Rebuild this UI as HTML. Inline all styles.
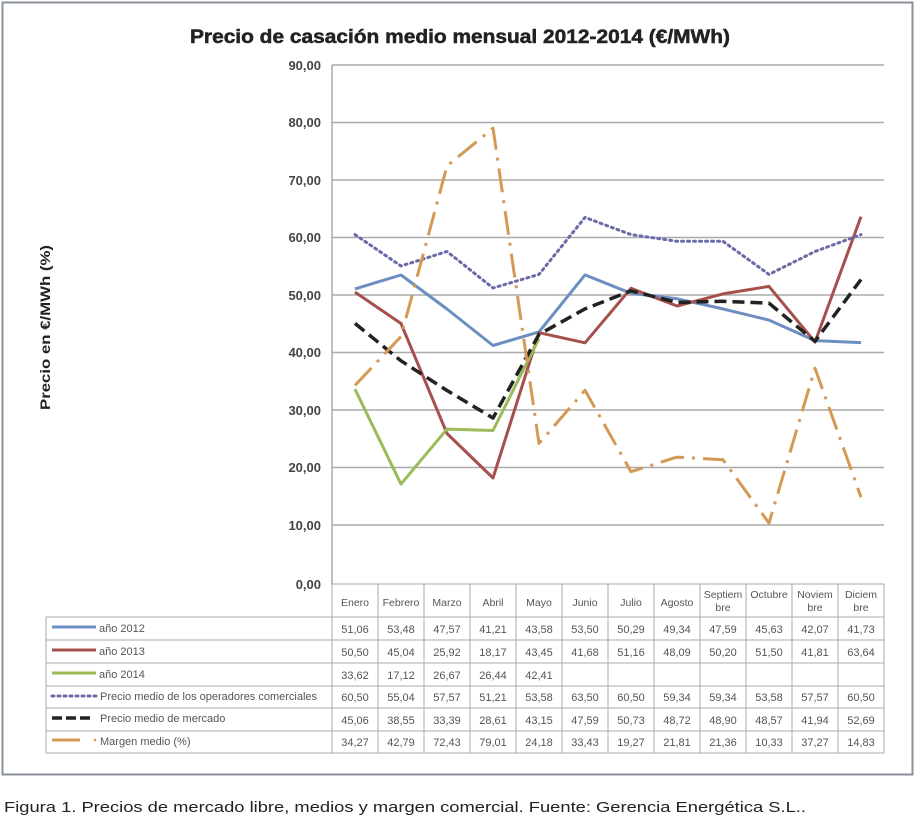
<!DOCTYPE html>
<html><head><meta charset="utf-8"><style>
body{margin:0;background:#fff;}
svg{display:block;font-family:"Liberation Sans",sans-serif;}
</style></head><body>
<svg width="914" height="823" viewBox="0 0 914 823" xmlns="http://www.w3.org/2000/svg">
<rect x="2.5" y="2.5" width="910" height="772" fill="#fff" stroke="#8a9298" stroke-width="2"/>
<text x="190" y="43" textLength="540" lengthAdjust="spacingAndGlyphs" font-size="19" font-weight="bold" fill="#222" stroke="#222" stroke-width="0.5">Precio de casación medio mensual 2012-2014 (€/MWh)</text>
<text transform="translate(50,410) rotate(-90)" textLength="165" lengthAdjust="spacingAndGlyphs" font-size="14" font-weight="bold" fill="#222">Precio en €/MWh (%)</text>
<g stroke="#aaa" stroke-width="1.5">
<line x1="332" y1="65" x2="884" y2="65"/><line x1="332" y1="122.5" x2="884" y2="122.5"/><line x1="332" y1="180" x2="884" y2="180"/><line x1="332" y1="237.5" x2="884" y2="237.5"/><line x1="332" y1="295" x2="884" y2="295"/><line x1="332" y1="352.5" x2="884" y2="352.5"/><line x1="332" y1="410" x2="884" y2="410"/><line x1="332" y1="467.5" x2="884" y2="467.5"/><line x1="332" y1="525" x2="884" y2="525"/>
<line x1="332" y1="65" x2="332" y2="584"/>
</g>
<g font-size="13" font-weight="bold" fill="#444" text-anchor="end">
<text x="321" y="70">90,00</text><text x="321" y="127">80,00</text><text x="321" y="185">70,00</text><text x="321" y="242">60,00</text><text x="321" y="300">50,00</text><text x="321" y="357">40,00</text><text x="321" y="415">30,00</text><text x="321" y="472">20,00</text><text x="321" y="530">10,00</text><text x="321" y="589">0,00</text>
</g>
<g fill="none" stroke-width="3" stroke-linejoin="round">
<polyline stroke="#6b8fc0" points="355,288.9 401,275 447,309 493,345.5 539,331.9 585,274.9 631,293.3 677,298.8 723,308.9 769,320.1 815,340.6 861,342.6"/>
<polyline stroke="#a4504d" points="355,292.1 401,323.5 447,433.5 493,478 539,332.7 585,342.8 631,288.3 677,306 723,293.9 769,286.4 815,342.1 861,216.6"/>
<polyline stroke="#9bbb59" points="355,389.2 401,484.1 447,429.1 493,430.5 539,338.6"/>
<polyline stroke="#6a6aa8" stroke-dasharray="2,4" stroke-linecap="round" points="355,234.6 401,266 447,251.5 493,288 539,274.4 585,217.4 631,234.6 677,241.3 723,241.3 769,274.4 815,251.5 861,234.6"/>
<polyline stroke="#222" stroke-width="3.5" stroke-dasharray="12,6" points="355,323.4 401,360.8 447,390.5 493,418 539,334.4 585,308.9 631,290.8 677,302.4 723,301.3 769,303.2 815,341.3 861,279.5"/>
<polyline stroke="#d49a55" stroke-dasharray="24,8,3,8" points="355,385.4 401,336.5 447,166 493,128.2 539,443.5 585,390.3 631,471.7 677,457.1 723,459.7 769,523.1 815,368.2 861,497.2"/>
</g>
<g stroke="#aaa" stroke-width="1" fill="none">
<rect x="46" y="617" width="838" height="136"/>
<line x1="332" y1="584" x2="884" y2="584"/>
<line x1="884" y1="584" x2="884" y2="617"/>
<line x1="46" y1="640" x2="884" y2="640"/><line x1="46" y1="663" x2="884" y2="663"/><line x1="46" y1="686" x2="884" y2="686"/><line x1="46" y1="708" x2="884" y2="708"/><line x1="46" y1="731" x2="884" y2="731"/>
<line x1="332" y1="584" x2="332" y2="753"/><line x1="378" y1="584" x2="378" y2="753"/><line x1="424" y1="584" x2="424" y2="753"/><line x1="470" y1="584" x2="470" y2="753"/><line x1="516" y1="584" x2="516" y2="753"/><line x1="562" y1="584" x2="562" y2="753"/><line x1="608" y1="584" x2="608" y2="753"/><line x1="654" y1="584" x2="654" y2="753"/><line x1="700" y1="584" x2="700" y2="753"/><line x1="746" y1="584" x2="746" y2="753"/><line x1="792" y1="584" x2="792" y2="753"/><line x1="838" y1="584" x2="838" y2="753"/>
</g>
<g font-size="10.5" fill="#555" text-anchor="middle">
<text x="355" y="606">Enero</text><text x="401" y="606">Febrero</text><text x="447" y="606">Marzo</text><text x="493" y="606">Abril</text><text x="539" y="606">Mayo</text><text x="585" y="606">Junio</text><text x="631" y="606">Julio</text><text x="677" y="606">Agosto</text>
<text x="723" y="598">Septiem</text><text x="723" y="611">bre</text><text x="769" y="598">Octubre</text><text x="815" y="598">Noviem</text><text x="815" y="611">bre</text><text x="861" y="598">Diciem</text><text x="861" y="611">bre</text>
<g font-size="11">
<text x="355" y="633">51,06</text><text x="401" y="633">53,48</text><text x="447" y="633">47,57</text><text x="493" y="633">41,21</text><text x="539" y="633">43,58</text><text x="585" y="633">53,50</text><text x="631" y="633">50,29</text><text x="677" y="633">49,34</text><text x="723" y="633">47,59</text><text x="769" y="633">45,63</text><text x="815" y="633">42,07</text><text x="861" y="633">41,73</text>
<text x="355" y="656">50,50</text><text x="401" y="656">45,04</text><text x="447" y="656">25,92</text><text x="493" y="656">18,17</text><text x="539" y="656">43,45</text><text x="585" y="656">41,68</text><text x="631" y="656">51,16</text><text x="677" y="656">48,09</text><text x="723" y="656">50,20</text><text x="769" y="656">51,50</text><text x="815" y="656">41,81</text><text x="861" y="656">63,64</text>
<text x="355" y="679">33,62</text><text x="401" y="679">17,12</text><text x="447" y="679">26,67</text><text x="493" y="679">26,44</text><text x="539" y="679">42,41</text>
<text x="355" y="701">60,50</text><text x="401" y="701">55,04</text><text x="447" y="701">57,57</text><text x="493" y="701">51,21</text><text x="539" y="701">53,58</text><text x="585" y="701">63,50</text><text x="631" y="701">60,50</text><text x="677" y="701">59,34</text><text x="723" y="701">59,34</text><text x="769" y="701">53,58</text><text x="815" y="701">57,57</text><text x="861" y="701">60,50</text>
<text x="355" y="724">45,06</text><text x="401" y="724">38,55</text><text x="447" y="724">33,39</text><text x="493" y="724">28,61</text><text x="539" y="724">43,15</text><text x="585" y="724">47,59</text><text x="631" y="724">50,73</text><text x="677" y="724">48,72</text><text x="723" y="724">48,90</text><text x="769" y="724">48,57</text><text x="815" y="724">41,94</text><text x="861" y="724">52,69</text>
<text x="355" y="746">34,27</text><text x="401" y="746">42,79</text><text x="447" y="746">72,43</text><text x="493" y="746">79,01</text><text x="539" y="746">24,18</text><text x="585" y="746">33,43</text><text x="631" y="746">19,27</text><text x="677" y="746">21,81</text><text x="723" y="746">21,36</text><text x="769" y="746">10,33</text><text x="815" y="746">37,27</text><text x="861" y="746">14,83</text>
</g>
</g>
<g stroke-width="3" fill="none">
<line x1="52" y1="627" x2="96" y2="627" stroke="#6b8fc0"/>
<line x1="52" y1="650" x2="96" y2="650" stroke="#a4504d"/>
<line x1="52" y1="673" x2="96" y2="673" stroke="#9bbb59"/>
<line x1="52" y1="696" x2="96" y2="696" stroke="#6a6aa8" stroke-dasharray="2,4" stroke-linecap="round"/>
<line x1="52" y1="718" x2="92" y2="718" stroke="#222" stroke-width="3.5" stroke-dasharray="10,4"/>
<line x1="52" y1="740" x2="80" y2="740" stroke="#d49a55"/>
<circle cx="95" cy="740" r="1.3" fill="#d49a55" stroke="none"/>
</g>
<g font-size="11" fill="#555">
<text x="99" y="632">año 2012</text><text x="99" y="655">año 2013</text><text x="99" y="678">año 2014</text>
<text x="100" y="700">Precio medio de los operadores comerciales</text><text x="100" y="722">Precio medio de mercado</text><text x="100" y="745">Margen medio (%)</text>
</g>
<text x="4" y="812" font-size="15" textLength="802" lengthAdjust="spacingAndGlyphs" fill="#222">Figura 1. Precios de mercado libre, medios y margen comercial.   Fuente: Gerencia Energética S.L..</text>
</svg>
</body></html>
